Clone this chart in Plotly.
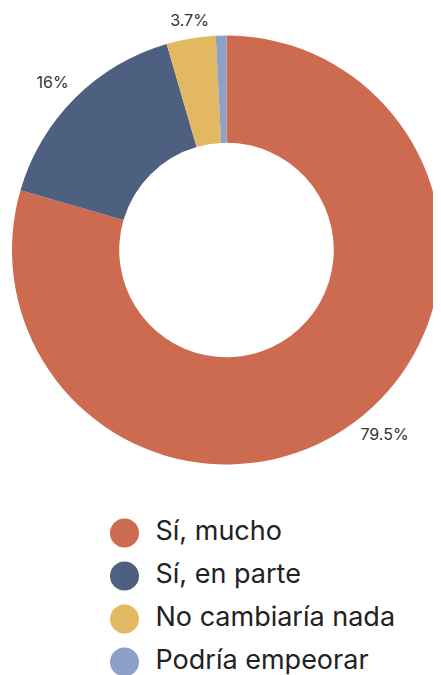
import math
import plotly.graph_objects as go

# datos de la encuesta
categorias = ["Sí, mucho", "Sí, en parte", "No cambiaría nada", "Podría empeorar"]
porcentajes = [79.5, 16, 3.7, 0.8]
etiquetas = ["79.5%", "16%", "3.7%", ""]
colores = ["#CD6B50", "#4E6080", "#E2B962", "#8CA0C8"]

# la pagina tiene 8px de margen en body, asi que la figura es 8px mas pequena
W, H = 433, 667
dom_x = [4 / W, 1.0]
dom_y = [(H - 458) / H, (H - 26) / H]
ancho = (dom_x[1] - dom_x[0]) * W
alto = (dom_y[1] - dom_y[0]) * H
radio = min(ancho, alto) / 2
cx = dom_x[0] * W + ancho / 2          # centro del donut en px desde la izquierda
cy = (1 - dom_y[1]) * H + alto / 2     # centro del donut en px desde arriba

fig = go.Figure()

# donut
fig.add_trace(go.Pie(
    labels=categorias,
    values=porcentajes,
    textinfo="none",
    hole=0.5,
    sort=False,
    direction="clockwise",
    rotation=0,
    marker=dict(colors=colores, line=dict(width=0)),
    domain=dict(x=dom_x, y=dom_y),
    showlegend=False,
))

# etiquetas de porcentaje por fuera del anillo (angulo medio de cada porcion)
total = sum(porcentajes)
lx, ly, pos = [], [], []
acum = 0
for v in porcentajes:
    ang = math.radians((acum + v / 2) / total * 360)
    s, c = math.sin(ang), math.cos(ang)
    lx.append(1.04 * s)
    ly.append(1.04 * c)
    vert = "top" if c > 0 else "bottom"
    hor = "right" if s > 0.3 else ("left" if s < -0.3 else "center")
    pos.append(vert + " " + hor)
    acum += v

fig.add_trace(go.Scatter(
    x=lx,
    y=ly,
    xaxis="x2",
    yaxis="y2",
    mode="text",
    text=etiquetas,
    textposition=pos,
    textfont=dict(size=16, color="#333333", family="Inter, sans-serif"),
    cliponaxis=False,
    hoverinfo="skip",
    showlegend=False,
))

# leyenda con circulos
fig.add_trace(go.Scatter(
    x=[0] * len(categorias),
    y=list(range(len(categorias))),
    mode="markers",
    marker=dict(size=29, color=colores),
    hoverinfo="skip",
    showlegend=False,
))
fig.add_trace(go.Scatter(
    x=[31] * len(categorias),
    y=list(range(len(categorias))),
    mode="text",
    text=categorias,
    textposition="middle right",
    textfont=dict(size=27, color="#222222", family="Inter, sans-serif"),
    hoverinfo="skip",
    showlegend=False,
))

fig.update_layout(
    width=W,
    height=H,
    margin=dict(l=0, r=0, t=0, b=0),
    paper_bgcolor="white",
    plot_bgcolor="rgba(0,0,0,0)",
    xaxis=dict(range=[-116.5, 316.5], visible=False, fixedrange=True),
    yaxis=dict(range=[3.302, -12.209], visible=False, fixedrange=True),
    # ejes auxiliares sobre toda la figura, 1 unidad = radio del donut
    xaxis2=dict(domain=[0, 1], range=[-cx / radio, (W - cx) / radio],
                visible=False, fixedrange=True, anchor="y2"),
    yaxis2=dict(domain=[0, 1], range=[-(H - cy) / radio, cy / radio],
                visible=False, fixedrange=True, anchor="x2"),
)

fig.write_html("out.html")
